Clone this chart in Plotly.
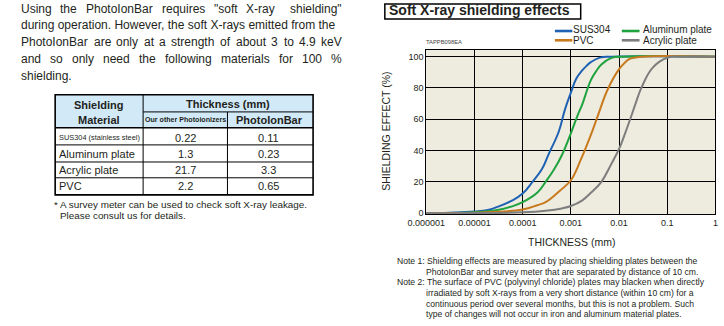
import plotly.graph_objects as go

W, H = 724, 326
FONT = "Liberation Sans, Arial, Helvetica, sans-serif"
TXT = "#231f20"

# ---------------- data ----------------
materials = ["SUS304", "Aluminum plate", "PVC", "Acrylic plate"]
colors = ["#1f62b4", "#1fa33f", "#c87a1f", "#7d7d7d"]

sus304_x = [1e-6, 3e-6, 1e-5, 2e-5, 3e-5, 6e-5, 1e-4, 1.6e-4, 2.5e-4, 3.5e-4, 5.6e-4, 7.5e-4, 1e-3, 1.3e-3, 1.7e-3, 2.1e-3, 2.6e-3, 4e-3, 7e-3, 1]
sus304_y = [0, 0.3, 1, 2.2, 4, 8, 12.5, 20, 28, 38, 52, 66, 77, 86, 91, 94, 96.5, 99.4, 100, 100]

alu_x = [1e-6, 1e-5, 3e-5, 6e-5, 1e-4, 2e-4, 3e-4, 4.5e-4, 6.5e-4, 1e-3, 1.4e-3, 1.7e-3, 2.6e-3, 3.4e-3, 4.3e-3, 7e-3, 1.2e-2, 1]
alu_y = [0, 0.6, 2, 4.3, 7, 13, 20, 28, 37, 51, 63, 69, 85, 91, 95, 99.2, 100, 100]

pvc_x = [1e-6, 1e-5, 3e-5, 1e-4, 2e-4, 3e-4, 6e-4, 1e-3, 1.6e-3, 2.6e-3, 3.7e-3, 5.8e-3, 1e-2, 1.3e-2, 1.7e-2, 3e-2, 1]
pvc_y = [0, 0.2, 0.8, 2.3, 5, 7, 14.5, 21, 34, 50, 63, 79, 92, 96, 98.7, 100, 100]

acr_x = [1e-6, 1e-5, 1e-4, 3e-4, 6.5e-4, 1e-3, 1.7e-3, 2.6e-3, 4.3e-3, 6.8e-3, 1e-2, 1.3e-2, 1.7e-2, 2.2e-2, 2.9e-2, 5e-2, 0.1, 0.2, 1]
acr_y = [0, 0, 0.5, 1.5, 3, 4.5, 8, 13, 20, 31, 41, 50, 60, 70, 80, 93, 99.3, 100, 100]

x_ticks = [1e-6, 1e-5, 1e-4, 1e-3, 1e-2, 1e-1, 1]
x_ticktext = ["0.000001", "0.00001", "0.0001", "0.001", "0.01", "0.1", "1"]
y_ticks = [0, 20, 40, 60, 80, 100]

table_rows = ["SUS304 (stainless steel)", "Aluminum plate", "Acrylic plate", "PVC"]
other_thk = ["0.22", "1.3", "21.7", "2.2"]
bar_thk = ["0.11", "0.23", "3.3", "0.65"]

series = [(sus304_x, sus304_y), (alu_x, alu_y), (pvc_x, pvc_y), (acr_x, acr_y)]

# ---------------- figure ----------------
fig = go.Figure()
for name, col, (xs, ys) in zip(materials, colors, series):
    fig.add_trace(go.Scatter(x=xs, y=ys, mode="lines", name=name,
                             line=dict(color=col, width=2, shape="spline", smoothing=1.2),
                             showlegend=False, hoverinfo="skip"))

PX0, PX1 = 420, 718.3
PY0, PY1 = 50.7, 216.7

fig.update_layout(
    width=W, height=H, margin=dict(l=0, r=0, t=0, b=0),
    paper_bgcolor="white", plot_bgcolor="#eeebdf",
    xaxis=dict(type="log", range=[-6, 0], domain=[PX0 / W, PX1 / W],
               tickvals=x_ticks, ticktext=x_ticktext, showgrid=True, gridcolor="black", gridwidth=1,
               showline=True, linecolor="black", linewidth=1, mirror=True, ticks="", zeroline=False,
               tickfont=dict(size=9, family=FONT, color=TXT)),
    yaxis=dict(range=[-0.6, 104.2], domain=[1 - PY1 / H, 1 - PY0 / H],
               tickvals=y_ticks, showgrid=True, gridcolor="black", gridwidth=1,
               showline=True, linecolor="black", linewidth=1, mirror=True, ticks="", zeroline=False,
               tickfont=dict(size=9, family=FONT, color=TXT)),
)

ann = []
shapes = []


def T(x, y, text, size, xa="left", family=FONT, color=TXT, angle=0):
    ann.append(dict(x=x / W, y=1 - y / H, xref="paper", yref="paper", text=text, showarrow=False,
                    xanchor=xa, yanchor="middle", borderpad=0, borderwidth=0,
                    font=dict(size=size, family=family, color=color), textangle=angle))


def L(x0, y0, x1, y1, w=1, c="black"):
    shapes.append(dict(type="line", xref="paper", yref="paper", x0=x0 / W, x1=x1 / W,
                       y0=1 - y0 / H, y1=1 - y1 / H, line=dict(color=c, width=w)))


def R(x0, y0, x1, y1, fill=None, w=1, c="black"):
    shapes.append(dict(type="rect", xref="paper", yref="paper", x0=x0 / W, x1=x1 / W,
                       y0=1 - y1 / H, y1=1 - y0 / H, fillcolor=fill or "rgba(0,0,0,0)",
                       line=dict(color=c, width=w), layer="below" if fill else "above"))


# ---- left paragraph (justified by word placement) ----
PS = 12
line1 = [("Using", 2), ("the", 42.7), ("PhotoIonBar", 68.7), ("requires", 147.3), ("\"soft", 200.7),
         ("X-ray", 234.5), ("shielding\"", 279.3)]
for w_, x_ in line1:
    T(x_, 9, w_, PS)
T(2, 25.7, "during operation. However, the soft X-rays emitted from the", PS)
line3 = [("PhotoIonBar", 2), ("are", 76.9), ("only", 100.4), ("at", 128.8), ("a", 144.7), ("strength", 157.2),
         ("of", 207.8), ("about", 223.7), ("3", 260.4), ("to", 272.9), ("4.9", 288.8), ("keV", 311.7)]
for w_, x_ in line3:
    T(x_, 42.7, w_, PS)
line4 = [("and", 2), ("so", 32.1), ("only", 54.5), ("need", 86.7), ("the", 123.7), ("following", 150.4),
         ("materials", 208.2), ("for", 268.1), ("100", 292), ("%", 322.1)]
for w_, x_ in line4:
    T(x_, 59.3, w_, PS)
T(2, 76.7, "shielding.", PS)

# ---- table ----
TX0, TX1, TY0, TY1 = 37.3, 303.3, 96, 197.3
C1, C2 = 128, 215
R(TX0, TY0, TX1, 129.3, fill="#d2e9f7", w=0, c="rgba(0,0,0,0)")
R(TX0, TY0, TX1, TY1, w=1.6)
L(C1, TY0, C1, TY1, 1)
L(C2, 113.3, C2, TY1, 1)
L(C1, 113.3, TX1, 113.3, 1)
L(TX0, 129.3, TX1, 129.3, 1.6)
for yy in [146.7, 164, 180]:
    L(TX0, yy, TX1, yy, 1)

T(82.7, 106.5, "<b>Shielding</b>", 11, xa="center")
T(82.7, 121.5, "<b>Material</b>", 11, xa="center")
T(215.7, 104.8, "<b>Thickness (mm)</b>", 11, xa="center")
T(171.5, 121.8, "<b>Our other Photoionizers</b>", 7.1, xa="center")
T(258, 121.8, "<b>PhotoIonBar</b>", 11, xa="center")
row_y = [139.3, 155.7, 171.7, 188.7]
for i, (lab, o, b) in enumerate(zip(table_rows, other_thk, bar_thk)):
    if i == 0:
        T(41, row_y[i], lab, 7.4)
    else:
        T(41.7, row_y[i], lab, 11)
    T(171.7, row_y[i], o, 11, xa="center")
    T(257, row_y[i], b, 11, xa="center")

T(36, 207.3, "* A survey meter can be used to check soft X-ray leakage.", 9.9)
T(42.7, 218.3, "Please consult us for details.", 9.9)

# ---- chart title box ----
R(377.3, 4, 579.3, 19.3, w=1.5)
T(382, 10.6, "<b>Soft X-ray shielding effects</b>", 14)

# ---- legend (manual) ----
leg = [(0, 552.7, 570.7, 31.4, 571.7, 30.0), (1, 621.7, 640, 31.4, 644, 30.0),
       (2, 552.7, 570.7, 40.8, 571.7, 41.3), (3, 621.7, 640, 40.8, 644, 41.3)]
for idx, lx0, lx1, ly, tx, ty in leg:
    L(lx0, ly, lx1, ly, 2.6, colors[idx])
    T(tx, ty, materials[idx], 10)

T(420, 42.7, "TAPPB098EA", 5.8, color="#444")

# ---- axis titles ----
T(570, 245, "THICKNESS (mm)", 10.5, xa="center")
ann.append(dict(x=379 / W, y=1 - 133 / H, xref="paper", yref="paper", text="SHIELDING EFFECT (%)",
                showarrow=False, xanchor="center", yanchor="middle", textangle=-90,
                borderpad=0, borderwidth=0,
                font=dict(size=10.5, family=FONT, color=TXT)))

# ---- notes ----
NS = 8.6
notes = [(390, 264.3, "Note 1: Shielding effects are measured by placing shielding plates between the"),
         (420, 275, "PhotoIonBar and survey meter that are separated by distance of 10 cm."),
         (390, 285.7, "Note 2: The surface of PVC (polyvinyl chloride) plates may blacken when directly"),
         (420, 296.7, "irradiated by soft X-rays from a very short distance (within 10 cm) for a"),
         (420, 307.7, "continuous period over several months, but this is not a problem. Such"),
         (420, 318.3, "type of changes will not occur in iron and aluminum material plates.")]
for x_, y_, t_ in notes:
    T(x_, y_, t_, NS)

fig.update_layout(annotations=ann, shapes=shapes)
fig.write_html("out.html")
